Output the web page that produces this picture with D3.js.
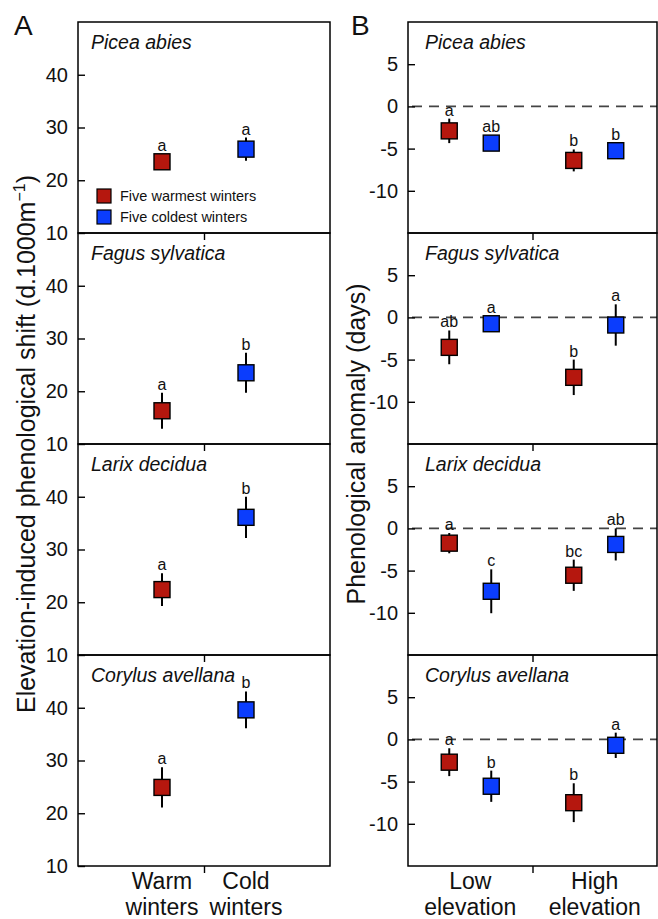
<html>
<head>
  <script src="https://d3js.org/d3.v7.min.js"></script>
  <style>
    body { margin: 0; background: #fff; }
    text { font-family: Arial, "Liberation Sans", Helvetica, sans-serif; fill: #111; }
    .frame { fill: none; stroke: #000; stroke-width: 1.5px; }
    .tick line { stroke: #000; stroke-width: 1.4px; }
    .tick text { font-size: 20px; }
    .species { font-size: 19.5px; font-style: italic; }
    .sig { font-size: 16px; }
  </style>
</head>
<body>
  <svg id="chart" width="658" height="919"></svg>
  <script>
    // species rows (same in both panels)
    const species = ["Picea abies", "Fagus sylvatica", "Larix decidua", "Corylus avellana"];

    // panel A: elevation-induced shift, warm vs cold winters
    const winterCats = ["Warm winters", "Cold winters"];
    const shiftWarm = [23.5, 16.3, 22.4, 24.9];
    const shiftWarmSE = [1.2, 3.4, 3.1, 3.8];
    const shiftCold = [25.9, 23.5, 36.1, 39.6];
    const shiftColdSE = [2.2, 3.8, 3.9, 3.5];
    const shiftWarmLetters = ["a", "a", "a", "a"];
    const shiftColdLetters = ["a", "b", "b", "b"];
    const shiftTicks = [10, 20, 30, 40];

    // panel B: phenological anomaly at low / high elevation
    const elevCats = ["Low elevation", "High elevation"];
    const anomWarmLow = [-2.9, -3.55, -1.75, -2.7];
    const anomWarmLowSE = [1.45, 2.0, 1.2, 1.65];
    const anomColdLow = [-4.35, -0.75, -7.45, -5.55];
    const anomColdLowSE = [0.9, 0.8, 2.6, 1.85];
    const anomWarmHigh = [-6.4, -7.1, -5.55, -7.5];
    const anomWarmHighSE = [1.3, 2.1, 1.85, 2.3];
    const anomColdHigh = [-5.25, -0.9, -1.9, -0.7];
    const anomColdHighSE = [0.9, 2.45, 1.9, 1.5];
    const warmLowLetters = ["a", "ab", "a", "a"];
    const coldLowLetters = ["ab", "a", "c", "b"];
    const warmHighLetters = ["b", "b", "bc", "b"];
    const coldHighLetters = ["b", "a", "ab", "a"];
    const anomTicks = [-10, -5, 0, 5];

    const legendLabels = ["Five warmest winters", "Five coldest winters"];
    const warmColor = "#b5170e";
    const coldColor = "#0b3dfd";

    const svg = d3.select("svg#chart");
    const topY = 22, rowH = 211, box = 16;
    const panelA = { x0: 78, x1: 330 };
    const panelB = { x0: 408, x1: 657 };

    const yA = d3.scaleLinear().domain([10, 50]).range([rowH, 0]);
    const yB = d3.scaleLinear().domain([-15, 10]).range([rowH, 0]);

    const wA = panelA.x1 - panelA.x0;
    const wB = panelB.x1 - panelB.x0;
    const xA = d3.scalePoint().domain(winterCats).range([0, wA]).padding(1);
    const xB = d3.scalePoint().domain(elevCats).range([0, wB]).padding(0.5);
    const xInner = d3.scalePoint().domain(["warm", "cold"]).range([-21, 21]);

    function drawRow(g, w, y, ticks, points, label, labelDx) {
      g.append("text").attr("class", "species")
        .attr("x", labelDx).attr("y", 27).text(label);

      g.append("g").attr("class", "yaxis")
        .call(d3.axisLeft(y).tickValues(ticks).tickSize(-7).tickPadding(10).tickFormat(d => String(d)))
        .call(a => a.select(".domain").remove());

      g.append("g").attr("transform", "translate(0," + rowH + ")")
        .call(d3.axisBottom(d3.scaleLinear().domain([0, 1]).range([0, w])).tickValues([0.5]).tickSize(7).tickFormat(""))
        .call(a => a.select(".domain").remove());

      g.selectAll(".err").data(points).join("line")
        .attr("x1", d => d.x).attr("x2", d => d.x)
        .attr("y1", d => y(d.v + d.se)).attr("y2", d => y(d.v - d.se))
        .attr("stroke", "#000").attr("stroke-width", 2);

      g.selectAll(".mark").data(points).join("rect")
        .attr("x", d => d.x - box / 2).attr("y", d => y(d.v) - box / 2)
        .attr("width", box).attr("height", box)
        .attr("fill", d => d.color).attr("stroke", "#000").attr("stroke-width", 1.4);

      g.selectAll(".sig").data(points).join("text").attr("class", "sig")
        .attr("x", d => d.x)
        .attr("y", d => Math.min(y(d.v + d.se), y(d.v) - box / 2) - 3)
        .attr("text-anchor", "middle").text(d => d.letter);

      g.append("rect").attr("class", "frame").attr("width", w).attr("height", rowH);
    }

    species.forEach((sp, i) => {
      const gA = svg.append("g").attr("transform", "translate(" + panelA.x0 + "," + (topY + i * rowH) + ")");
      drawRow(gA, wA, yA, shiftTicks, [
        { x: xA(winterCats[0]), v: shiftWarm[i], se: shiftWarmSE[i], letter: shiftWarmLetters[i], color: warmColor },
        { x: xA(winterCats[1]), v: shiftCold[i], se: shiftColdSE[i], letter: shiftColdLetters[i], color: coldColor }
      ], sp, 13);

      const gB = svg.append("g").attr("transform", "translate(" + panelB.x0 + "," + (topY + i * rowH) + ")");
      gB.append("line")
        .attr("x1", 4).attr("x2", wB).attr("y1", yB(0)).attr("y2", yB(0))
        .attr("stroke", "#444").attr("stroke-width", 1.6).attr("stroke-dasharray", "10,7");
      drawRow(gB, wB, yB, anomTicks, [
        { x: xB(elevCats[0]) + xInner("warm"), v: anomWarmLow[i], se: anomWarmLowSE[i], letter: warmLowLetters[i], color: warmColor },
        { x: xB(elevCats[0]) + xInner("cold"), v: anomColdLow[i], se: anomColdLowSE[i], letter: coldLowLetters[i], color: coldColor },
        { x: xB(elevCats[1]) + xInner("warm"), v: anomWarmHigh[i], se: anomWarmHighSE[i], letter: warmHighLetters[i], color: warmColor },
        { x: xB(elevCats[1]) + xInner("cold"), v: anomColdHigh[i], se: anomColdHighSE[i], letter: coldHighLetters[i], color: coldColor }
      ], sp, 17);
    });

    // legend inside first row of panel A
    const legend = svg.append("g").attr("transform", "translate(" + (panelA.x0 + 19) + "," + (topY + 174) + ")");
    legendLabels.forEach((lab, i) => {
      legend.append("rect").attr("x", 0).attr("y", i * 21 - 7).attr("width", 14).attr("height", 14)
        .attr("fill", i === 0 ? warmColor : coldColor).attr("stroke", "#000").attr("stroke-width", 1.2);
      legend.append("text").attr("x", 23).attr("y", i * 21).attr("dy", "0.35em")
        .style("font-size", "14.5px").text(lab);
    });

    // category labels under the bottom row
    const bottom = topY + 4 * rowH;
    function catLabels(cats, xs, x0) {
      cats.forEach(c => {
        const t = svg.append("text").attr("text-anchor", "middle").style("font-size", "23px")
          .attr("x", x0 + xs(c)).attr("y", bottom + 23);
        const words = c.split(" ");
        t.append("tspan").attr("x", x0 + xs(c)).text(words[0]);
        t.append("tspan").attr("x", x0 + xs(c)).attr("dy", 26).text(words[1]);
      });
    }
    catLabels(winterCats, xA, panelA.x0);
    catLabels(elevCats, xB, panelB.x0);

    // axis titles
    const titleA = svg.append("text").attr("text-anchor", "middle").style("font-size", "25px")
      .attr("transform", "translate(35," + (topY + 2 * rowH) + ") rotate(-90)");
    titleA.append("tspan").text("Elevation-induced phenological shift (d.1000m");
    titleA.append("tspan").attr("dy", -10).style("font-size", "16px").text("\u22121");
    titleA.append("tspan").attr("dy", 10).text(")");

    svg.append("text").attr("text-anchor", "middle").style("font-size", "25px")
      .attr("transform", "translate(365," + (topY + 2 * rowH) + ") rotate(-90)")
      .text("Phenological anomaly (days)");

    // panel letters
    svg.append("text").attr("x", 14).attr("y", 35).style("font-size", "28px").text("A");
    svg.append("text").attr("x", 351).attr("y", 35).style("font-size", "28px").text("B");
  </script>
</body>
</html>
